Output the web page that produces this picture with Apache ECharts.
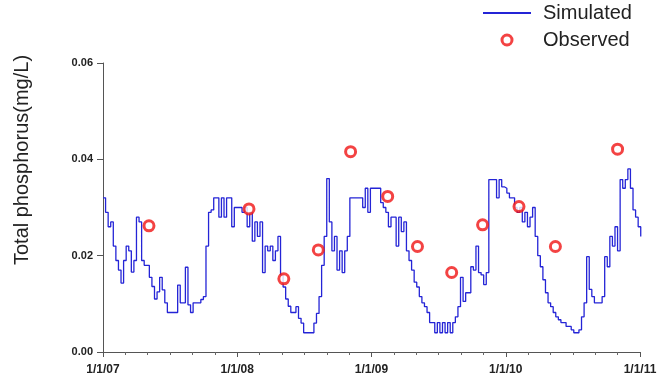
<!DOCTYPE html>
<html><head><meta charset="utf-8">
<script src="https://cdn.jsdelivr.net/npm/echarts@6/dist/echarts.min.js"></script>
<style>html,body{margin:0;padding:0;background:#fff}#c{width:662px;height:381px}</style>
</head><body><div id="c"></div>
<script>
// ---- data ----
const yTicks = [0, 0.02, 0.04, 0.06];
const xTickLabels = ['1/1/07', '1/1/08', '1/1/09', '1/1/10', '1/1/11'];
const yAxisTitle = 'Total phosphorus(mg/L)';
const seriesNames = ['Simulated', 'Observed'];

// simulated, weekly samples starting 2007-01-01
const simStart = '2007-01-01';
const simStepDays = 7;
const simulated = [
  // 2007
  0.032, 0.029, 0.026, 0.027, 0.022, 0.019, 0.017, 0.0143, 0.019, 0.022,
  0.021, 0.0166, 0.019, 0.028, 0.027, 0.019, 0.018, 0.018, 0.0155, 0.0136,
  0.011, 0.0125, 0.0155, 0.0129, 0.0102, 0.0082, 0.0082, 0.0082, 0.0082, 0.0139,
  0.0102, 0.0102, 0.0176, 0.0098, 0.0082, 0.0102, 0.0102, 0.0102, 0.0109, 0.0115,
  0.022, 0.029, 0.0295, 0.032, 0.032, 0.028, 0.032, 0.028, 0.032, 0.032,
  0.026, 0.030, 0.030,
  // 2008
  0.030, 0.029, 0.030, 0.026, 0.029, 0.023, 0.027, 0.024, 0.027, 0.0165,
  0.022, 0.021, 0.022, 0.019, 0.021, 0.024, 0.016, 0.0135, 0.011, 0.0095,
  0.0082, 0.0082, 0.0094, 0.007, 0.006, 0.004, 0.004, 0.004, 0.004, 0.006,
  0.008, 0.0115, 0.018, 0.024, 0.036, 0.027, 0.021, 0.024, 0.017, 0.021,
  0.0165, 0.021, 0.024, 0.032, 0.032, 0.032, 0.032, 0.032, 0.030, 0.034,
  0.029, 0.034,
  // 2009
  0.034, 0.034, 0.034, 0.031, 0.030, 0.029, 0.026, 0.028, 0.028, 0.022,
  0.028, 0.025, 0.027, 0.021, 0.019, 0.017, 0.0145, 0.0135, 0.0115, 0.0102,
  0.0094, 0.0082, 0.0061, 0.0061, 0.004, 0.0061, 0.004, 0.0061, 0.004, 0.0061,
  0.004, 0.0061, 0.0073, 0.0094, 0.0155, 0.0105, 0.0123, 0.0123, 0.0177, 0.017,
  0.022, 0.0165, 0.016, 0.014, 0.0165, 0.0358, 0.0358, 0.0358, 0.032, 0.0358,
  0.0343, 0.034,
  // 2010
  0.033, 0.032, 0.032, 0.030, 0.029, 0.030, 0.027, 0.029, 0.026, 0.028,
  0.030, 0.024, 0.020, 0.0177, 0.015, 0.0123, 0.0102, 0.0094, 0.0082, 0.0073,
  0.0067, 0.0061, 0.0061, 0.0053, 0.0053, 0.0046, 0.004, 0.004, 0.0046, 0.0073,
  0.0102, 0.0198, 0.013, 0.0115, 0.0102, 0.0102, 0.0102, 0.0115, 0.0198, 0.0177,
  0.024, 0.022, 0.026, 0.021, 0.0358, 0.034, 0.0358, 0.038, 0.034, 0.0295,
  0.028, 0.026, 0.024
];

const observedDates = [
  '2007-05-06', '2008-02-02', '2008-05-07', '2008-08-09', '2008-11-05', '2009-02-14',
  '2009-05-06', '2009-08-07', '2009-10-30', '2010-02-06', '2010-05-16', '2010-11-01'
];
const observed = [
  0.0262, 0.0297, 0.0152, 0.0212, 0.0416, 0.0323,
  0.0219, 0.0165, 0.0264, 0.0302, 0.0219, 0.0421
];

// ---- helpers ----
function yearFrac(ms) {
  const d = new Date(ms);
  const y = d.getUTCFullYear();
  const s = Date.UTC(y, 0, 1), e = Date.UTC(y + 1, 0, 1);
  return y + (ms - s) / (e - s);
}
const startMs = Date.parse(simStart + 'T00:00:00Z');
const simData = simulated.map((v, i) => [yearFrac(startMs + i * simStepDays * 86400000), v]);
const obsData = observed.map((v, i) => [yearFrac(Date.parse(observedDates[i] + 'T00:00:00Z')), v]);

const xMin = 2007, xMax = 2007 + xTickLabels.length - 1;
const font = "'Liberation Sans', Arial, sans-serif";
const lineColor = '#2424d6';
const obsColor = '#f01414';

const chart = echarts.init(document.getElementById('c'), null, { renderer: 'canvas' });
chart.setOption({
  backgroundColor: '#ffffff',
  animation: false,
  grid: { left: 103, right: 22, top: 63, bottom: 29 },
  legend: {
    orient: 'vertical',
    left: 482, top: 3,
    padding: 0,
    itemWidth: 48, itemHeight: 10, itemGap: 7,
    textStyle: { fontSize: 20, color: '#222', fontFamily: font, padding: [0, 0, 0, 7] },
    data: [
      { name: seriesNames[0], itemStyle: { opacity: 0 } },
      { name: seriesNames[1], itemStyle: { color: '#ffffff', borderColor: obsColor, borderWidth: 3 } }
    ]
  },
  graphic: [{
    type: 'text',
    x: 22, y: 160,
    rotation: Math.PI / 2,
    style: {
      text: yAxisTitle,
      fontSize: 20, fontFamily: font, fill: '#222',
      align: 'center', verticalAlign: 'middle'
    }
  }],
  xAxis: {
    type: 'value',
    min: xMin, max: xMax, interval: 1,
    axisLine: { lineStyle: { color: '#555', width: 1 } },
    axisTick: { length: 5, lineStyle: { color: '#555' } },
    minorTick: { show: true, splitNumber: 6, length: 3, lineStyle: { color: '#666' } },
    splitLine: { show: false },
    axisLabel: {
      margin: 12, fontSize: 12, fontWeight: 'bold', color: '#222', fontFamily: font,
      formatter: v => xTickLabels[Math.round(v - xMin)]
    }
  },
  yAxis: {
    type: 'value',
    min: yTicks[0], max: yTicks[yTicks.length - 1], interval: yTicks[1] - yTicks[0],
    axisLine: { show: true, lineStyle: { color: '#555', width: 1 } },
    axisTick: { show: true, length: 6, lineStyle: { color: '#555' } },
    splitLine: { show: false },
    axisLabel: {
      margin: 10, fontSize: 11, fontWeight: 'bold', color: '#222', fontFamily: font,
      formatter: v => v.toFixed(2)
    }
  },
  series: [
    {
      name: seriesNames[0],
      type: 'line',
      step: 'end',
      data: simData,
      symbol: 'none',
      lineStyle: { color: lineColor, width: 1.3 },
      itemStyle: { color: lineColor },
      z: 2
    },
    {
      name: seriesNames[1],
      type: 'scatter',
      data: obsData,
      symbol: 'circle',
      symbolSize: 10,
      itemStyle: { color: '#ffffff', borderColor: obsColor, borderWidth: 3 },
      z: 3
    }
  ]
});
</script>
</body></html>
